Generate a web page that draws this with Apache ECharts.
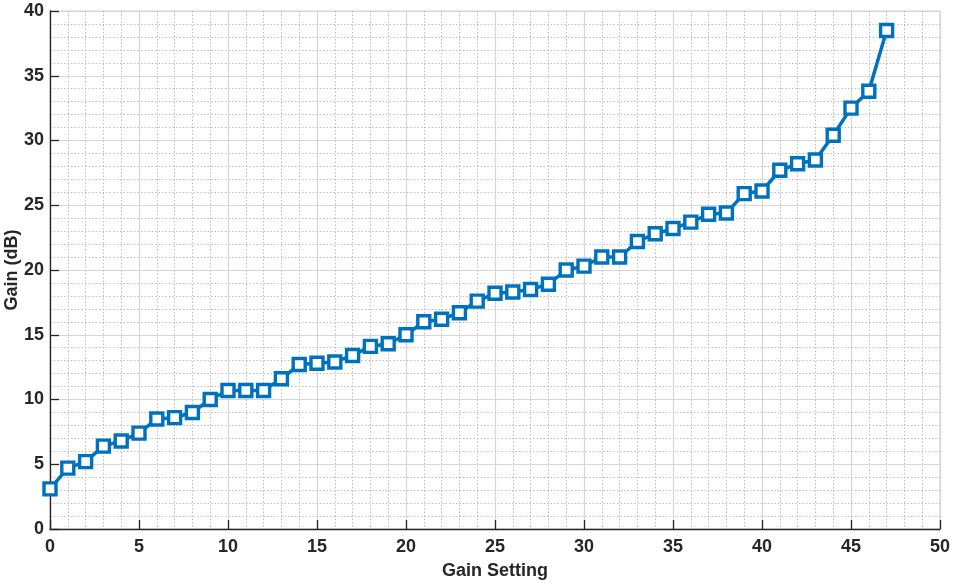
<!DOCTYPE html>
<html>
<head>
<meta charset="utf-8">
<script src="https://cdn.jsdelivr.net/npm/echarts@6/dist/echarts.min.js"></script>
<style>html,body{margin:0;padding:0;background:#fff;}#c{width:953px;height:584px;}</style>
</head>
<body>
<div id="c"></div>
<script>
const gainSetting = [0,1,2,3,4,5,6,7,8,9,10,11,12,13,14,15,16,17,18,19,20,21,22,23,24,25,26,27,28,29,30,31,32,33,34,35,36,37,38,39,40,41,42,43,44,45,46,47];
const gainDb = [3.1,4.7,5.2,6.4,6.8,7.4,8.5,8.6,9.0,10.0,10.7,10.7,10.7,11.6,12.7,12.8,12.9,13.4,14.1,14.3,15.0,16.0,16.2,16.7,17.6,18.2,18.3,18.5,18.9,20.0,20.3,21.0,21.0,22.2,22.8,23.2,23.7,24.3,24.4,25.9,26.1,27.7,28.2,28.5,30.4,32.5,33.8,38.5];
const xTitle = 'Gain Setting';
const yTitle = 'Gain (dB)';

const pts = gainSetting.map((x, i) => [x, gainDb[i]]);
const font = 'Liberation Sans, Arial, Helvetica, sans-serif';
const chart = echarts.init(document.getElementById('c'), null, {renderer: 'canvas'});
const axisCommon = {
  axisLine: {show: true, lineStyle: {color: '#262626', width: 1.3}},
  axisTick: {show: true, inside: true, length: 9, lineStyle: {color: '#262626', width: 1.3}},
  minorTick: {show: false, splitNumber: 5},
  splitLine: {show: true, lineStyle: {color: '#d6d6d6', width: 1.2}},
  minorSplitLine: {show: true, lineStyle: {color: '#bdbdbd', width: 1, type: [1.5, 2]}},
  axisLabel: {color: '#262626', fontFamily: font, fontWeight: 'bold', fontSize: 18},
  nameTextStyle: {color: '#262626', fontFamily: font, fontWeight: 'bold', fontSize: 18},
  nameMoveOverlap: false
};
chart.setOption({
  animation: false,
  backgroundColor: '#fff',
  grid: {left: 50, right: 13, top: 11, bottom: 55, show: true, borderColor: '#d6d6d6', borderWidth: 1.2, containLabel: false, outerBoundsMode: 'none'},
  xAxis: Object.assign({}, axisCommon, {
    type: 'value', min: 0, max: 50, interval: 5,
    name: xTitle, nameLocation: 'middle', nameGap: 33,
    axisLabel: Object.assign({}, axisCommon.axisLabel, {margin: 9})
  }),
  yAxis: Object.assign({}, axisCommon, {
    type: 'value', min: 0, max: 40, interval: 5,
    name: yTitle, nameLocation: 'middle', nameGap: 29,
    axisLabel: Object.assign({}, axisCommon.axisLabel, {margin: 6})
  }),
  series: [{
    type: 'line',
    data: pts,
    symbol: 'rect',
    symbolSize: 12,
    lineStyle: {color: '#0072BD', width: 3.5},
    itemStyle: {color: '#fff', borderColor: '#0072BD', borderWidth: 3.4},
    z: 5
  }]
});
</script>
</body>
</html>
